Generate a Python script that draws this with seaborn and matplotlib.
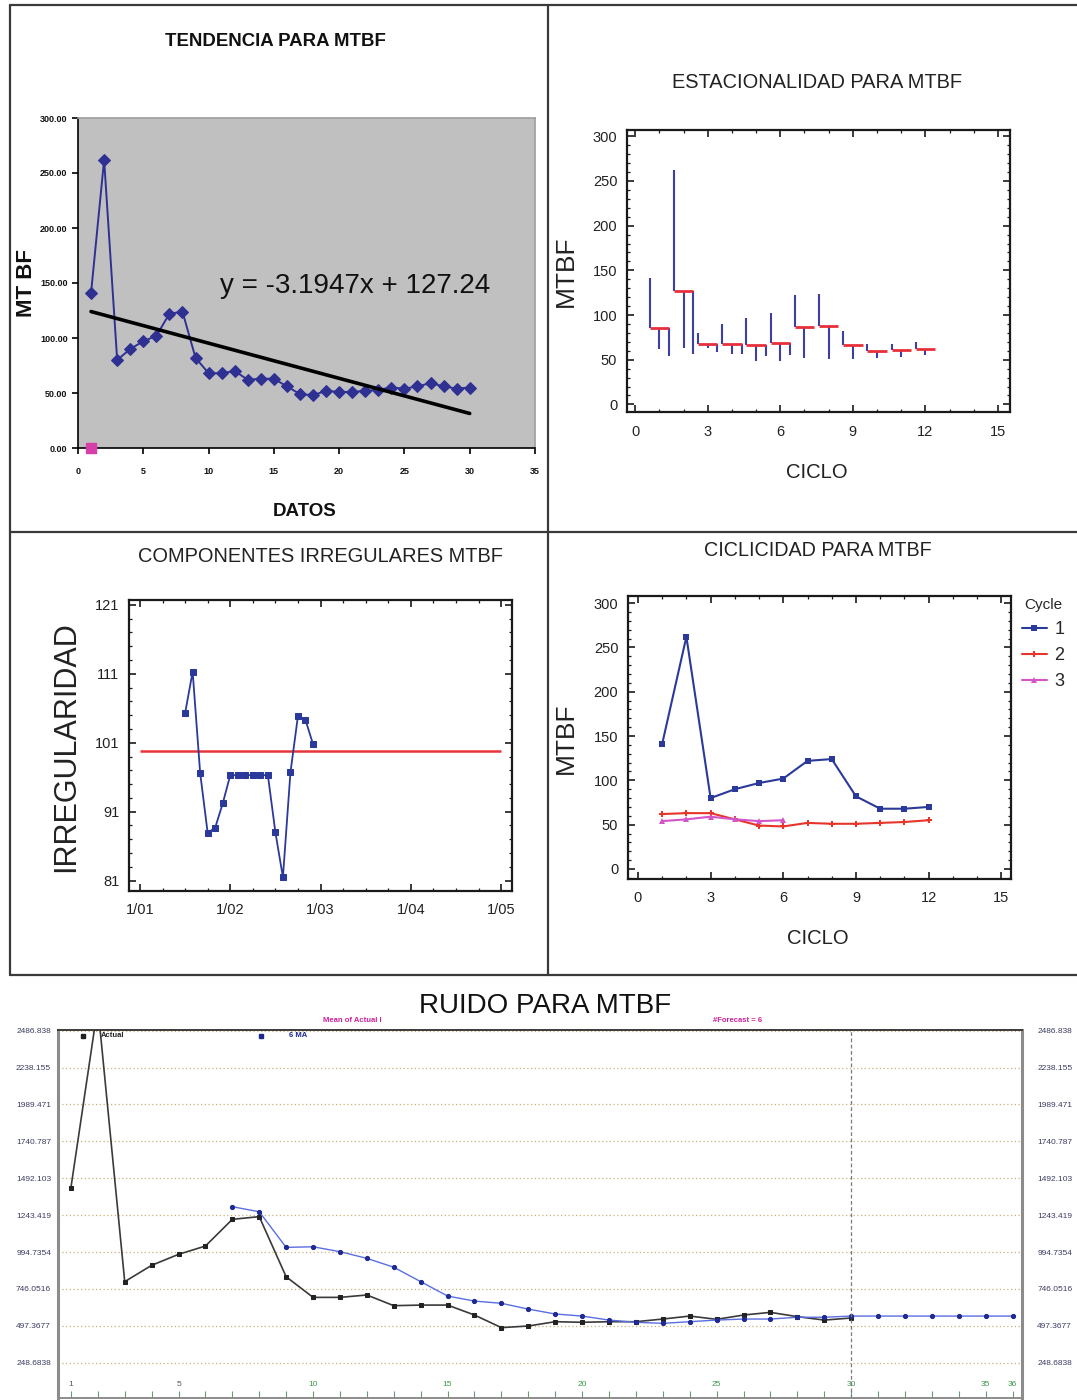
import numpy as np
import pandas as pd
import matplotlib
matplotlib.use("Agg")
import matplotlib.pyplot as plt
import seaborn as sns
from matplotlib.lines import Line2D
from matplotlib.ticker import AutoMinorLocator

# ---------------- data ----------------
# MTBF por ciclo (12 meses por ciclo; el tercer ciclo esta incompleto)
ciclo_1 = [141, 262, 80, 90, 97, 102, 122, 124, 82, 68, 68, 70]
ciclo_2 = [62, 63, 63, 56, 49, 48, 52, 51, 51, 52, 53, 55]
ciclo_3 = [54, 56, 59, 56, 54, 55]

# linea de tendencia (ajuste lineal)
pendiente = -3.1947
intercepto = 127.24

# componentes irregulares (mes desde 1/01)
irr_mes = [6, 7, 8, 9, 10, 11, 12, 13, 14, 15, 16, 17, 18, 19, 20, 21, 22, 23]
irr_valor = [105.3, 111.3, 96.6, 87.9, 88.7, 92.2, 96.3, 96.3, 96.3, 96.3,
             96.3, 96.3, 88.0, 81.5, 96.7, 104.9, 104.3, 100.8]
irr_media = 99.8
irr_etiquetas = ["1/01", "1/02", "1/03", "1/04", "1/05"]

# ruido: serie real y media movil de 6 periodos
ruido_actual = [1428, 2650, 795, 905, 979, 1035, 1215, 1233, 828, 689,
                689, 705, 633, 637, 637, 570, 485, 496, 525, 521,
                525, 525, 543, 563, 541, 570, 588, 559, 536, 550]
ruido_ma = [1300, 1266, 1026, 1030, 997, 952, 892, 795, 698, 664,
            649, 610, 577, 563, 536, 521, 514, 525, 536, 543,
            543, 555, 555, 563, 563, 563, 563, 563, 563, 563]
ruido_ma_inicio = 7
ruido_niveles = ["248.6838", "497.3677", "746.0516", "994.7354", "1243.419",
                 "1492.103", "1740.787", "1989.471", "2238.155", "2486.838"]
ruido_xetiquetas = [1, 5, 10, 15, 20, 25, 30, 35, 36]

# ---------------- style ----------------
sns.set_theme(style="ticks")
SANS = ["Liberation Sans", "DejaVu Sans"]
plt.rcParams["font.family"] = SANS
plt.rcParams["axes.unicode_minus"] = False

W, H = 1077, 1400
fig = plt.figure(figsize=(W / 100, H / 100), dpi=100)
fig.patch.set_facecolor("white")


def rect(x0, y0, x1, y1):
    return [x0 / W, 1 - y1 / H, (x1 - x0) / W, (y1 - y0) / H]


def ftext(x, y, s, **kw):
    ha = kw.pop("ha", "center")
    va = kw.pop("va", "center")
    fig.text(x / W, 1 - y / H, s, ha=ha, va=va, **kw)


# panel frames
for (x0, y0, x1, y1) in [(10, 5, 1077, 5), (10, 5, 10, 975), (548, 5, 548, 975),
                         (10, 532, 1077, 532), (10, 975, 1077, 975)]:
    fig.add_artist(Line2D([x0 / W, x1 / W], [1 - y0 / H, 1 - y1 / H],
                          transform=fig.transFigure, color="#3a3a3a", lw=1.6))

mtbf = np.array(ciclo_1 + ciclo_2 + ciclo_3, dtype=float)
datos = np.arange(1, len(mtbf) + 1)


def stat_axes(ax):
    for s in ax.spines.values():
        s.set_color("#1a1a1a")
        s.set_linewidth(1.6)
    ax.tick_params(which="both", direction="in", top=True, right=True,
                   color="#1a1a1a", labelcolor="#222222")
    ax.tick_params(which="major", length=5, width=1.2, labelsize=10.5, pad=7)
    ax.tick_params(which="minor", length=2.5, width=0.9)
    ax.set_xlabel("")
    ax.set_ylabel("")


# ---------------- TENDENCIA ----------------
ax1 = fig.add_axes(rect(78, 118, 535, 448))
ax1.set_facecolor("#c0c0c0")
sns.lineplot(x=datos, y=mtbf, ax=ax1, color="#2e3192", lw=1.4, marker="D",
             markersize=6.5, markeredgecolor="#2e3192")
tendencia = pendiente * datos + intercepto
sns.lineplot(x=datos, y=tendencia, ax=ax1, color="black", lw=2.6)
ax1.scatter([1], [0], marker="s", s=55, color="#d63fa8", clip_on=False, zorder=6)
ax1.set_xlim(0, 35)
ax1.set_ylim(0, 300)
ax1.set_xticks(range(0, 36, 5))
ax1.set_yticks(range(0, 301, 50))
ax1.set_yticklabels([f"{v:.2f}" for v in range(0, 301, 50)])
ax1.tick_params(axis="both", direction="out", length=4, width=1.2, color="black",
                labelsize=6.5, labelcolor="#111111")
ax1.tick_params(axis="x", pad=10)
for lab in ax1.get_xticklabels() + ax1.get_yticklabels():
    lab.set_fontweight("bold")
ax1.spines["left"].set_color("black")
ax1.spines["bottom"].set_color("black")
ax1.spines["left"].set_linewidth(1.2)
ax1.spines["bottom"].set_linewidth(1.2)
ax1.spines["top"].set_color("#a0a0a0")
ax1.spines["right"].set_color("#a0a0a0")
ax1.set_xlabel("")
ax1.set_ylabel("")
ax1.text(0.606, 0.49, f"y = {pendiente}x + {intercepto}", transform=ax1.transAxes,
         ha="center", va="center", fontsize=20, color="#111111")
ftext(275, 42, "TENDENCIA PARA MTBF", fontsize=13.4, fontweight="bold", color="#111111")
ftext(305, 512, "DATOS", fontsize=13.5, fontweight="bold", color="#111111")
ftext(27, 283, "MT BF", fontsize=16, fontweight="bold", rotation=90, color="#111111")

# ---------------- ESTACIONALIDAD ----------------
ax2 = fig.add_axes(rect(627, 130, 1010, 412))
filas = []
desplaz = {1: -0.4, 2: 0.0, 3: 0.4}
for c, serie in enumerate([ciclo_1, ciclo_2, ciclo_3], start=1):
    for m, v in enumerate(serie, start=1):
        filas.append({"ciclo": c, "mes": m, "mtbf": v})
df = pd.DataFrame(filas)
medias = df.groupby("mes")["mtbf"].mean()
df["pos"] = df["mes"] + df["ciclo"].map(desplaz)
df["media"] = df["mes"].map(medias)
ax2.vlines(df["pos"], df["media"], df["mtbf"], color="#3b3fa6", lw=1.5)
ax2.hlines(medias.values, medias.index - 0.4, medias.index + 0.4,
           color="#e8303a", lw=2.0, zorder=3)
ax2.set_xlim(-0.34, 15.5)
ax2.set_ylim(-8.5, 307)
ax2.set_xticks(range(0, 16, 3))
ax2.set_yticks(range(0, 301, 50))
ax2.xaxis.set_minor_locator(AutoMinorLocator(3))
ax2.yaxis.set_minor_locator(AutoMinorLocator(5))
stat_axes(ax2)
ax2.tick_params(axis="x", pad=9)
ftext(817, 82, "ESTACIONALIDAD PARA MTBF", fontsize=14.4, color="#222222")
ftext(817, 473, "CICLO", fontsize=14.6, color="#222222")
ftext(566, 271, "MTBF", fontsize=19, rotation=90, color="#222222")

# ---------------- IRREGULARES ----------------
ax3 = fig.add_axes(rect(129, 600, 512, 891))
sns.lineplot(x=irr_mes, y=irr_valor, ax=ax3, color="#2b3a9a", lw=1.3, marker="s",
             markersize=4, markeredgecolor="#2b3a9a")
ax3.hlines(irr_media, 0, 48, color="#e8353b", lw=1.8, zorder=1)
ax3.set_xlim(-1.46, 49.45)
ax3.set_ylim(79.5, 121.7)
ax3.set_xticks([0, 12, 24, 36, 48])
ax3.set_xticklabels(irr_etiquetas)
ax3.set_yticks([81, 91, 101, 111, 121])
ax3.xaxis.set_minor_locator(AutoMinorLocator(4))
ax3.yaxis.set_minor_locator(AutoMinorLocator(5))
stat_axes(ax3)
ax3.tick_params(axis="x", pad=9)
ftext(320, 556, "COMPONENTES IRREGULARES MTBF", fontsize=14.4, color="#222222")
ftext(66, 747, "IRREGULARIDAD", fontsize=22, rotation=90, color="#222222")

# ---------------- CICLICIDAD ----------------
ax4 = fig.add_axes(rect(628, 596, 1011, 879))
dfc = df.assign(Cycle=df["ciclo"].astype(str))
paleta = {"1": "#2b3a9a", "2": "#e8352a", "3": "#d455c8"}
marcas = {"1": "s", "2": "P", "3": "^"}
sns.lineplot(data=dfc, x="mes", y="mtbf", hue="Cycle", style="Cycle",
             markers=marcas, dashes=False, palette=paleta, ax=ax4, lw=1.5,
             markersize=5, markeredgewidth=0)
ax4.set_xlim(-0.41, 15.4)
ax4.set_ylim(-11.3, 308)
ax4.set_xticks(range(0, 16, 3))
ax4.set_yticks(range(0, 301, 50))
ax4.xaxis.set_minor_locator(AutoMinorLocator(3))
ax4.yaxis.set_minor_locator(AutoMinorLocator(5))
stat_axes(ax4)
ax4.tick_params(axis="x", pad=9)
handles, labels = ax4.get_legend_handles_labels()
ax4.legend(handles, labels, title="Cycle", loc="upper left",
           bbox_to_anchor=(1.0, 1.03), frameon=False, fontsize=13,
           title_fontsize=11, handlelength=1.4, handletextpad=0.4,
           labelspacing=0.5, borderaxespad=0.2)
ftext(818, 551, "CICLICIDAD PARA MTBF", fontsize=14.2, color="#222222")
ftext(818, 938, "CICLO", fontsize=14.6, color="#222222")
ftext(566, 738, "MTBF", fontsize=19, rotation=90, color="#222222")

# ---------------- RUIDO ----------------
ax5 = fig.add_axes(rect(58, 1030, 1022, 1398))
niveles = [float(v) for v in ruido_niveles]
periodo_actual = np.arange(1, len(ruido_actual) + 1)
periodo_ma = np.arange(ruido_ma_inicio, ruido_ma_inicio + len(ruido_ma))
sns.lineplot(x=periodo_actual, y=ruido_actual, ax=ax5, color="#3a3a3a", lw=1.2,
             marker="s", markersize=3, markeredgecolor="#222222",
             markerfacecolor="#222222")
sns.lineplot(x=periodo_ma, y=ruido_ma, ax=ax5, color="#5a6ee0", lw=1.0,
             marker="o", markersize=3, markeredgecolor="#1f2a90",
             markerfacecolor="#1f2a90")
ax5.axvline(len(ruido_actual), color="#7a7a7a", lw=0.9, ls=(0, (3, 2)))
ax5.set_xlim(0.52, 36.35)
ax5.set_ylim(10.8, 2491)
ax5.set_yticks(niveles)
ax5.set_yticklabels(ruido_niveles)
ax5.yaxis.grid(True, ls=(0, (1, 2)), color="#c9b27a", lw=0.9)
ax5.set_axisbelow(True)
ax5.tick_params(axis="y", length=0, pad=5, labelsize=6, labelcolor="#3c3c64")
ax5.set_xticks(range(1, 37))
ax5.set_xticklabels([str(i) if i in ruido_xetiquetas else "" for i in range(1, 37)])
ax5.tick_params(axis="x", direction="in", length=5, width=0.8, color="#6a9a70",
                pad=-12, labelsize=6)
for lab in ax5.get_xticklabels():
    lab.set_color("#555555" if lab.get_text() in ("1", "5") else "#3a9a4a")
for side, col, lw in [("left", "#8c8c8c", 2.2), ("right", "#8c8c8c", 2.2),
                      ("top", "#3a3a3a", 1.4), ("bottom", "#8c8c8c", 1.4)]:
    ax5.spines[side].set_color(col)
    ax5.spines[side].set_linewidth(lw)
ax5.set_xlabel("")
ax5.set_ylabel("")
ax5r = ax5.twinx()
ax5r.set_ylim(ax5.get_ylim())
ax5r.set_yticks(niveles)
ax5r.set_yticklabels(ruido_niveles)
ax5r.tick_params(axis="y", length=0, pad=11, labelsize=6, labelcolor="#3c3c64")
for s in ax5r.spines.values():
    s.set_visible(False)

ax5.plot([0.026], [0.984], marker="s", color="#222222", markersize=3,
         transform=ax5.transAxes)
ax5.text(0.044, 0.984, "Actual", transform=ax5.transAxes, ha="left", va="center",
         fontsize=5.5, fontweight="bold", color="#222222")
ax5.plot([0.211], [0.984], marker="s", color="#1f2a90", markersize=2.5,
         transform=ax5.transAxes)
ax5.text(0.240, 0.984, "6 MA", transform=ax5.transAxes, ha="left", va="center",
         fontsize=5.5, fontweight="bold", color="#1f2a90")
ftext(352, 1020, "Mean of Actual I", fontsize=5.5, fontweight="bold", color="#cc2299")
ftext(738, 1020, "#Forecast = 6", fontsize=5.5, fontweight="bold", color="#cc2299")
ftext(545, 1006, "RUIDO PARA MTBF", fontsize=20, color="#111111")

fig.savefig("out.png", dpi=100, facecolor="white")
